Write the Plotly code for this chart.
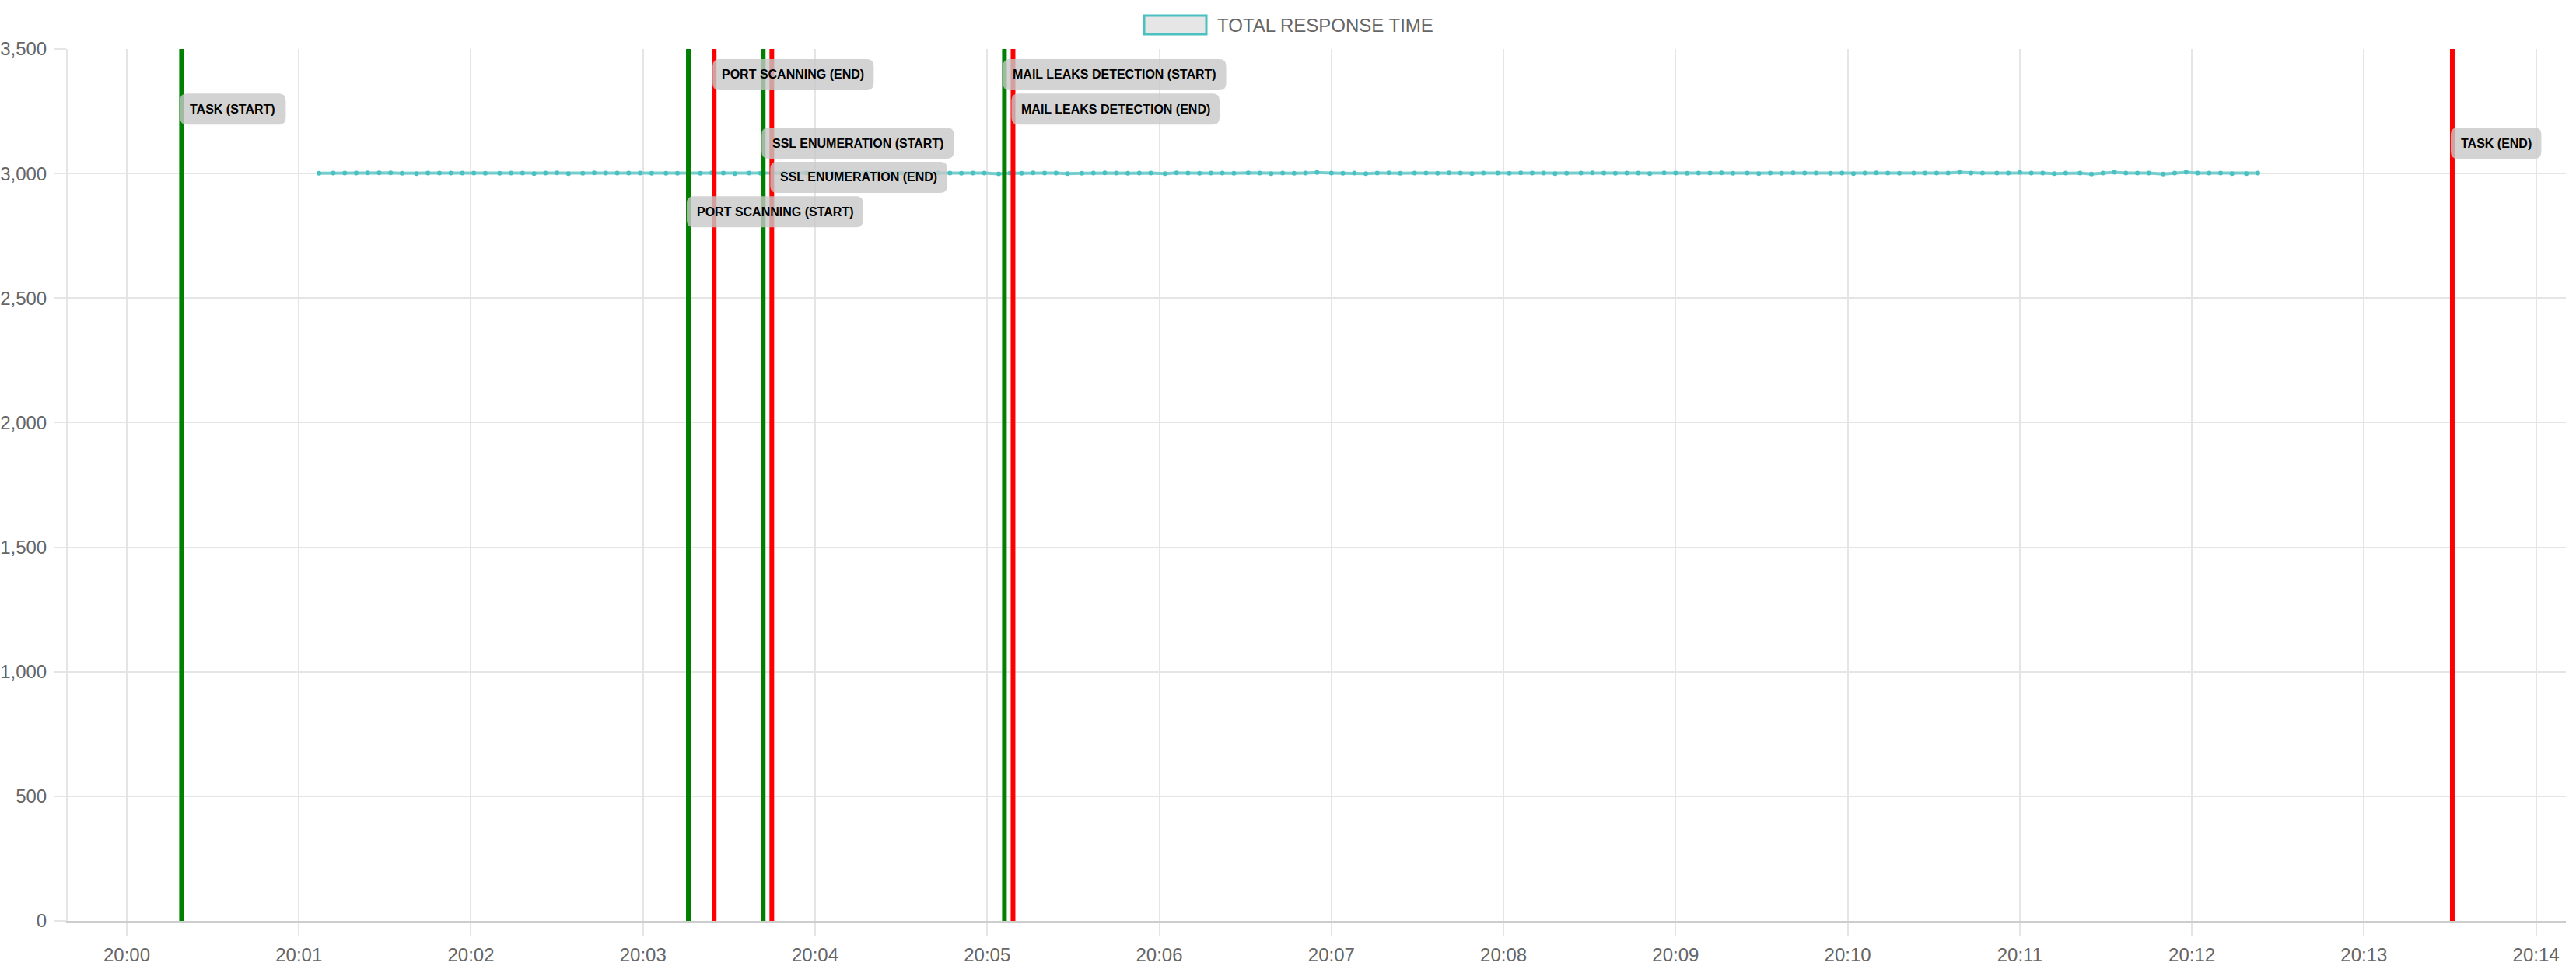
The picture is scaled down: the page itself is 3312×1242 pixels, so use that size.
import plotly.graph_objects as go

DAY = "2024-01-01 "

# sample timestamps of the response time series
times = [
    "20:01:07", "20:01:12", "20:01:16", "20:01:20", "20:01:24", "20:01:28", "20:01:32", "20:01:36", "20:01:41", "20:01:45",
    "20:01:49", "20:01:53", "20:01:57", "20:02:01", "20:02:05", "20:02:10", "20:02:14", "20:02:18", "20:02:22", "20:02:26",
    "20:02:30", "20:02:34", "20:02:39", "20:02:43", "20:02:47", "20:02:51", "20:02:55", "20:02:59", "20:03:03", "20:03:08",
    "20:03:12", "20:03:16", "20:03:20", "20:03:24", "20:03:28", "20:03:32", "20:03:37", "20:03:41", "20:03:45", "20:03:49",
    "20:03:53", "20:03:57", "20:04:01", "20:04:06", "20:04:10", "20:04:14", "20:04:18", "20:04:22", "20:04:26", "20:04:30",
    "20:04:35", "20:04:39", "20:04:43", "20:04:47", "20:04:51", "20:04:55", "20:04:59", "20:05:04", "20:05:08", "20:05:12",
    "20:05:16", "20:05:20", "20:05:24", "20:05:28", "20:05:33", "20:05:37", "20:05:41", "20:05:45", "20:05:49", "20:05:53",
    "20:05:57", "20:06:02", "20:06:06", "20:06:10", "20:06:14", "20:06:18", "20:06:22", "20:06:26", "20:06:31", "20:06:35",
    "20:06:39", "20:06:43", "20:06:47", "20:06:51", "20:06:55", "20:07:00", "20:07:04", "20:07:08", "20:07:12", "20:07:16",
    "20:07:20", "20:07:24", "20:07:29", "20:07:33", "20:07:37", "20:07:41", "20:07:45", "20:07:49", "20:07:53", "20:07:58",
    "20:08:02", "20:08:06", "20:08:10", "20:08:14", "20:08:18", "20:08:22", "20:08:27", "20:08:31", "20:08:35", "20:08:39",
    "20:08:43", "20:08:47", "20:08:51", "20:08:56", "20:09:00", "20:09:04", "20:09:08", "20:09:12", "20:09:16", "20:09:20",
    "20:09:25", "20:09:29", "20:09:33", "20:09:37", "20:09:41", "20:09:45", "20:09:49", "20:09:54", "20:09:58", "20:10:02",
    "20:10:06", "20:10:10", "20:10:14", "20:10:18", "20:10:23", "20:10:27", "20:10:31", "20:10:35", "20:10:39", "20:10:43",
    "20:10:47", "20:10:52", "20:10:56", "20:11:00", "20:11:04", "20:11:08", "20:11:12", "20:11:16", "20:11:21", "20:11:25",
    "20:11:29", "20:11:33", "20:11:37", "20:11:41", "20:11:45", "20:11:50", "20:11:54", "20:11:58", "20:12:02", "20:12:06",
    "20:12:10", "20:12:14", "20:12:19", "20:12:23",
]

# total response time values
response_time = [
    3001, 3002, 3002, 3002, 3003, 3003, 3003, 3001, 3000, 3002, 3002, 3002, 3002, 3002, 3001,
    3001, 3002, 3002, 3000, 3002, 3003, 3000, 3001, 3003, 3002, 3002, 3002, 3002, 3001, 3001, 3001,
    3002, 3001, 3003, 3002, 3000, 3002, 3001, 3002, 3003, 3001, 3002, 3000, 3002, 3002, 3001,
    3003, 3002, 3001, 3002, 3000, 3002, 3003, 3002, 3001, 3002, 3002, 2999, 3002, 3001, 3003,
    3002, 3002, 3000, 3001, 3002, 3003, 3002, 3001, 3002, 3002, 3000, 3003, 3002, 3001, 3002,
    3002, 3001, 3003, 3002, 3000, 3002, 3001, 3002, 3004, 3002, 3001, 3002, 3000, 3002, 3003,
    3001, 3002, 3002, 3001, 3003, 3002, 3000, 3002, 3002, 3001, 3003, 3002, 3002, 3000, 3001,
    3002, 3003, 3002, 3001, 3002, 3002, 3000, 3003, 3002, 3001, 3002, 3002, 3003, 3001, 3002,
    3000, 3002, 3001, 3003, 3002, 3002, 3001, 3002, 3000, 3002, 3003, 3002, 3001, 3002, 3002,
    3002, 3002, 3005, 3002, 3002, 3002, 3002, 3005, 3002, 3002, 3000, 3002, 3002, 2998,
    3002, 3005, 3002, 3002, 3002, 2998, 3002, 3005, 3002, 3002, 3002, 3000, 3000, 3002,
]

# task / subtask markers
event_names = [
    "TASK (START)", "PORT SCANNING (START)", "PORT SCANNING (END)",
    "SSL ENUMERATION (START)", "SSL ENUMERATION (END)",
    "MAIL LEAKS DETECTION (START)", "MAIL LEAKS DETECTION (END)", "TASK (END)",
]
event_times = [
    "20:00:19.1", "20:03:15.8", "20:03:24.8", "20:03:41.9", "20:03:44.9",
    "20:05:06", "20:05:09", "20:13:30.8",
]
event_kinds = ["start", "start", "end", "start", "end", "start", "end", "end"]

# label stacking (layout only)
label_levels = [3397, 3259, 3122, 2985, 2847]
label_rows = [1, 4, 0, 2, 3, 0, 1, 2]

TEAL = "rgb(75,192,192)"
GRID = "#e5e5e5"
TEXT = "#666666"
FONT = "Liberation Sans, Arial, sans-serif"
LABEL_SIZE = 16
LABEL_PAD = 12
LABEL_H = 40
RADIUS = 9

# Arial / Liberation Sans Bold advance widths (per 1000 em), to size the label boxes
BOLD_W = {
    "A": 722, "B": 722, "C": 722, "D": 722, "E": 667, "F": 611, "G": 778, "H": 722,
    "I": 278, "J": 556, "K": 722, "L": 611, "M": 833, "N": 722, "O": 778, "P": 667,
    "Q": 778, "R": 722, "S": 667, "T": 611, "U": 722, "V": 667, "W": 944, "X": 667,
    "Y": 667, "Z": 611, " ": 278, "(": 333, ")": 333,
}


def text_width(s, size):
    return sum(BOLD_W.get(c, 600) for c in s) * size / 1000.0


def rounded_box(x0, x1, h, r):
    y0, y1 = -h / 2.0, h / 2.0
    return (f"M{x0 + r},{y0} L{x1 - r},{y0} Q{x1},{y0} {x1},{y0 + r} "
            f"L{x1},{y1 - r} Q{x1},{y1} {x1 - r},{y1} L{x0 + r},{y1} "
            f"Q{x0},{y1} {x0},{y1 - r} L{x0},{y0 + r} Q{x0},{y0} {x0 + r},{y0} Z")


fig = go.Figure()

fig.add_trace(go.Scatter(
    x=[DAY + t for t in times],
    y=response_time,
    mode="lines+markers",
    name="TOTAL RESPONSE TIME",
    line=dict(color="rgba(75,192,192,0.75)", width=4),
    marker=dict(color=TEAL, size=6, line=dict(width=0)),
    showlegend=False,
))

# vertical event lines first, labels on top of them
for t, kind in zip(event_times, event_kinds):
    color = "green" if kind == "start" else "red"
    fig.add_shape(type="line", xref="x", yref="paper",
                  x0=DAY + t, x1=DAY + t, y0=0, y1=1,
                  line=dict(color=color, width=6))

for name, t, row in zip(event_names, event_times, label_rows):
    box_w = text_width(name, LABEL_SIZE) + 2 * LABEL_PAD
    left = -2
    fig.add_shape(type="path", xref="x", yref="y",
                  xsizemode="pixel", ysizemode="pixel",
                  xanchor=DAY + t, yanchor=label_levels[row],
                  path=rounded_box(left, left + box_w, LABEL_H, RADIUS),
                  fillcolor="rgba(200,200,200,0.8)", line=dict(width=0))
    fig.add_annotation(x=DAY + t, y=label_levels[row], xref="x", yref="y",
                       text="<b>" + name + "</b>", showarrow=False,
                       xanchor="center", yanchor="middle",
                       xshift=left + box_w / 2.0,
                       font=dict(family=FONT, size=LABEL_SIZE, color="black"))

# legend drawn by hand: box + label, centred on the figure (plot centre is 37px right)
fig.add_shape(type="rect", xref="paper", yref="paper",
              xsizemode="pixel", ysizemode="pixel",
              xanchor=0.5, yanchor=1,
              x0=-222, x1=-142, y0=19, y1=43,
              line=dict(color=TEAL, width=3), fillcolor="#e6e6e6")
fig.add_annotation(xref="paper", yref="paper", x=0.5, y=1, xshift=-130, yshift=31,
                   text="TOTAL RESPONSE TIME", showarrow=False,
                   xanchor="left", yanchor="middle",
                   font=dict(family=FONT, size=24, color=TEXT))

fig.update_layout(
    width=3312, height=1242,
    margin=dict(l=87, r=13, t=63, b=58, autoexpand=False),
    paper_bgcolor="white", plot_bgcolor="white",
    font=dict(family=FONT, size=24, color=TEXT),
    showlegend=False,
)
fig.update_xaxes(
    type="date", automargin=False,
    range=[DAY + "19:59:39.4", DAY + "20:14:10.4"],
    dtick=60000, tickformat="%H:%M",
    showgrid=True, gridcolor=GRID, gridwidth=2,
    ticks="outside", ticklen=16, tickwidth=2, tickcolor=GRID,
    ticklabelstandoff=4,
    showline=True, linecolor="#cdcdcd", linewidth=3,
    zeroline=False,
    tickfont=dict(size=24, color=TEXT),
)
fig.update_yaxes(
    automargin=False,
    range=[0, 3500], dtick=500, tickformat=",",
    showgrid=True, gridcolor=GRID, gridwidth=2,
    ticks="outside", ticklen=16, tickwidth=2, tickcolor=GRID,
    ticklabelstandoff=4,
    showline=True, linecolor=GRID, linewidth=2,
    zeroline=False,
    tickfont=dict(size=24, color=TEXT),
)

fig.write_html("out.html", config={"displayModeBar": False},
               post_script="document.body.style.margin='0';")
